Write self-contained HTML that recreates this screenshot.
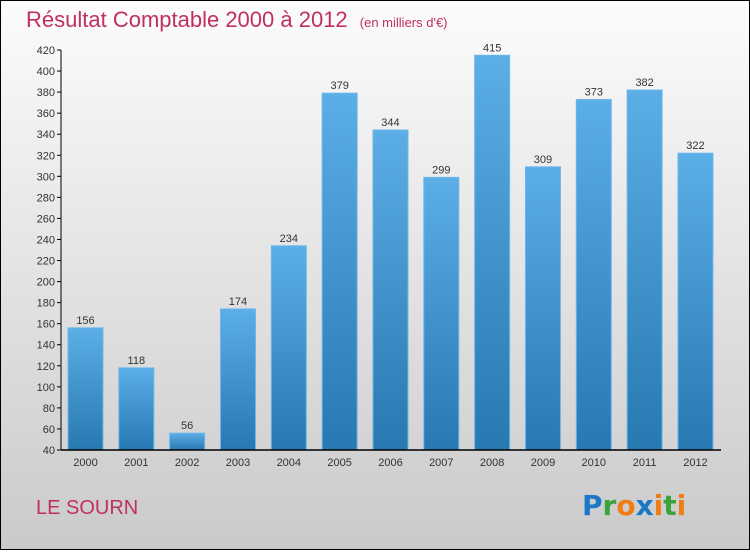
<!DOCTYPE html>
<html><head><meta charset="utf-8"><style>
body{margin:0;width:750px;height:550px;overflow:hidden;font-family:"Liberation Sans",sans-serif}
</style></head><body>
<svg id="c" width="750" height="550" xmlns="http://www.w3.org/2000/svg">
<defs>
<linearGradient id="bg" x1="0" y1="0" x2="0" y2="1"><stop offset="0" stop-color="#fcfcfc"/><stop offset="1" stop-color="#cacaca"/></linearGradient>
<linearGradient id="bar" x1="0" y1="0" x2="0" y2="1"><stop offset="0" stop-color="#5caee6"/><stop offset="1" stop-color="#2878b2"/></linearGradient>
</defs>
<rect x="0.5" y="0.5" width="749" height="549" fill="url(#bg)" stroke="#000"/>
<text x="26" y="27" font-size="22" fill="#c0305e">Résultat Comptable 2000 à 2012 <tspan font-size="13" dx="6">(en milliers d'€)</tspan></text>
<text x="36" y="514" font-size="20" fill="#c0305e">LE SOURN</text>
<text x="582" y="515" font-size="28" font-weight="bold" font-family="'DejaVu Sans',sans-serif"><tspan fill="#1b78c8">P</tspan><tspan fill="#3aa33a">r</tspan><tspan fill="#f07d14">o</tspan><tspan fill="#1b78c8">x</tspan><tspan fill="#f07d14">i</tspan><tspan fill="#3aa33a">t</tspan><tspan fill="#f07d14">i</tspan></text>
<g id="g"></g>
</svg>
<script>
const categories=["2000","2001","2002","2003","2004","2005","2006","2007","2008","2009","2010","2011","2012"];
const values=[156,118,56,174,234,379,344,299,415,309,373,382,322];
const yTicks=[40,60,80,100,120,140,160,180,200,220,240,260,280,300,320,340,360,380,400,420];
const NS="http://www.w3.org/2000/svg";
const g=document.getElementById('g');
const y=v=>450-(v-40)*400/380;
const x=i=>68+i*50.83;
function mk(t,a){const e=document.createElementNS(NS,t);for(const k in a)e.setAttribute(k,a[k]);g.appendChild(e);return e;}
yTicks.forEach(v=>{
  const l=mk('line',{x1:57,x2:61,y1:y(v),y2:y(v),stroke:'#000'});
  
  
  const t=mk('text',{x:55,y:y(v)+4,'font-size':11,'text-anchor':'end',fill:'#333'});
  t.textContent=v;
  
  
});
values.forEach((v,i)=>{
  const r=mk('rect',{x:x(i),y:y(v),width:35,height:450-y(v),fill:'url(#bar)',stroke:'#6bb8ec','stroke-width':1});
  
  
  const t=mk('text',{x:x(i)+17.5,y:y(v)-4,'font-size':11,'text-anchor':'middle',fill:'#333'});
  t.textContent=v;
  
  
  const c=mk('text',{x:x(i)+17.5,y:466,'font-size':11,'text-anchor':'middle',fill:'#333'});
  c.textContent=categories[i];
  
  
});
const ya=mk('line',{x1:61,x2:61,y1:y(420),y2:450,stroke:'#000'});


const xa=mk('line',{x1:61,x2:721,y1:450,y2:450,stroke:'#000','stroke-width':1.5});


</script>
</body></html>
